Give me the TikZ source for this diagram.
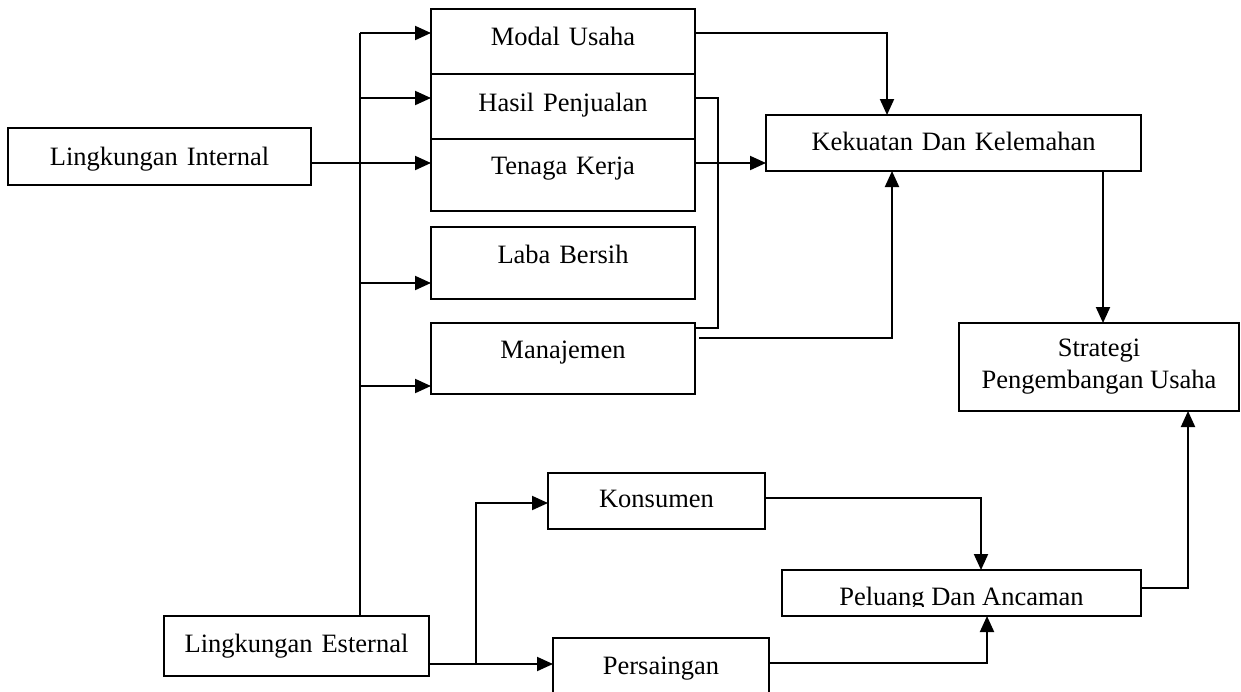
\documentclass[tikz,border=0pt]{standalone}
\usepackage{fontspec}
\setmainfont{Liberation Serif}
\usetikzlibrary{arrows.meta}

\tikzset{
  kotak/.style={draw, line width=1pt, inner sep=0pt, outer sep=0pt, anchor=base, align=center},
  panah/.style={line width=1pt, -{Triangle[length=8pt,width=7pt]}},
  garis/.style={line width=1pt},
}

\begin{document}
\begin{tikzpicture}[x=0.5pt, y=-0.5pt, font=\fontsize{13.25}{16}\selectfont]
  \useasboundingbox (0,0) rectangle (1241,691);
  \clip (0,0) rectangle (1241,691);

  % lingkungan
  \node[kotak, text width=151.5pt, text height=18.5pt, text depth=10pt] (internal) at (159.5,165) {Lingkungan Internal};
  \node[kotak, text width=132.5pt, text height=18pt, text depth=12pt] (eksternal) at (296.5,652) {Lingkungan Esternal};

  % faktor internal
  \node[kotak, text width=132pt, text height=18pt, text depth=14.5pt] (modal) at (563,45) {Modal Usaha};
  \node[kotak, text width=132pt, text height=18.5pt, text depth=14pt] (hasil) at (563,111) {Hasil Penjualan};
  \node[kotak, text width=132pt, text height=17.5pt, text depth=18.5pt] (tenaga) at (563,174) {Tenaga Kerja};
  \node[kotak, text width=132pt, text height=18pt, text depth=18pt] (laba) at (563,263) {Laba Bersih};
  \node[kotak, text width=132pt, text height=17.5pt, text depth=18pt] (manajemen) at (563,358) {Manajemen};

  % faktor eksternal
  \node[kotak, text width=108.5pt, text height=17pt, text depth=11pt] (konsumen) at (656.5,507) {Konsumen};
  \node[kotak, text width=108pt, text height=18pt, text depth=15pt] (persaingan) at (661,674) {Persaingan};

  % hasil analisis
  \node[kotak, text width=187.5pt, text height=17.5pt, text depth=10.5pt] (kekuatan) at (953.5,150) {Kekuatan Dan Kelemahan};
  \node[kotak, anchor=center, minimum width=179.5pt, minimum height=23pt] (peluang) at (961.5,593) {};
  \begin{scope}
    \clip (782,570) rectangle (1141,606);
    \node[anchor=base, inner sep=0pt] (peluangteks) at (961.5,605) {Peluang Dan Ancaman};
  \end{scope}
  \node[kotak, anchor=center, minimum width=140pt, minimum height=44pt] (strategi) at (1099,367) {Strategi\\Pengembangan Usaha};

  % titik bantu
  \coordinate (b1) at (360,33);
  \coordinate (b2) at (360,98);
  \coordinate (b3) at (360,163);
  \coordinate (b4) at (360,283);
  \coordinate (b5) at (360,386);
  \coordinate (k1) at (887,33);
  \coordinate (h1) at (718,98);
  \coordinate (h2) at (718,328);
  \coordinate (m0) at (699,338);
  \coordinate (m1) at (892,338);
  \coordinate (k2) at (1103,171);
  \coordinate (e1) at (476,664);
  \coordinate (e2) at (476,503);
  \coordinate (k3) at (981,498);
  \coordinate (p1) at (987,663);
  \coordinate (p2) at (1188,588);

  % garis
  \draw[garis] (b1) -- (b1 |- eksternal.north);
  \foreach \b/\t in {b1/modal, b2/hasil, b4/laba, b5/manajemen}
    \draw[panah] (\b) -- (\b -| \t.west);
  \draw[panah] (b3 -| internal.east) -- (b3 -| tenaga.west);
  \draw[panah] (k1 -| modal.east) -- (k1) -- (k1 |- kekuatan.north);
  \draw[panah] (b3 -| tenaga.east) -- (b3 -| kekuatan.west);
  \draw[garis] (h1 -| hasil.east) -- (h1) -- (h2) -- (h2 -| manajemen.east);
  \draw[panah] (m0) -- (m1) -- (m1 |- kekuatan.south);
  \draw[panah] (k2 |- kekuatan.south) -- (k2 |- strategi.north);
  \draw[panah] (e1 -| eksternal.east) -- (e1 -| persaingan.west);
  \draw[panah] (e1) -- (e2) -- (e2 -| konsumen.west);
  \draw[panah] (k3 -| konsumen.east) -- (k3) -- (k3 |- peluang.north);
  \draw[panah] (p1 -| persaingan.east) -- (p1) -- (p1 |- peluang.south);
  \draw[panah] (p2 -| peluang.east) -- (p2) -- (p2 |- strategi.south);
\end{tikzpicture}
\end{document}
